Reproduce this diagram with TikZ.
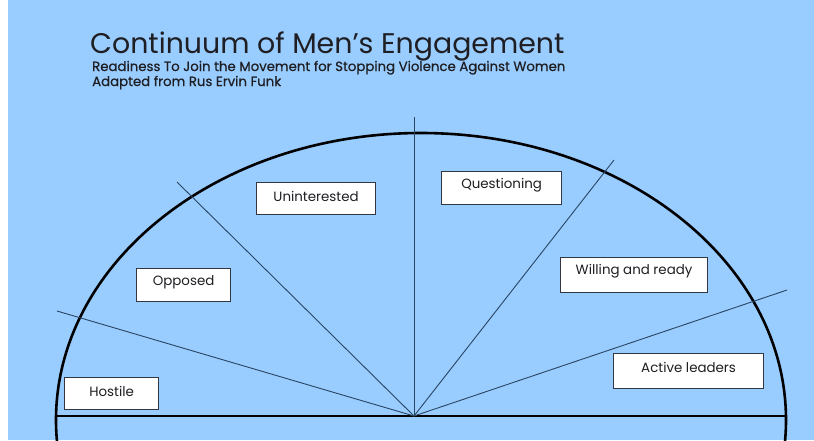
\documentclass[tikz,border=0pt]{standalone}
\usepackage{fontspec}
\setmainfont{Poppins}
\newfontfamily\titlefont{Poppins}
\newfontfamily\subfont[FakeBold=0.6]{Poppins}
\definecolor{bgblue}{RGB}{153,204,255}
\definecolor{raycol}{RGB}{40,70,100}
\definecolor{boxline}{RGB}{50,55,65}
\definecolor{txt}{RGB}{30,30,35}
\begin{document}
\begin{tikzpicture}[x=1pt,y=-1pt,
  lbl/.style={draw=boxline,line width=1.2pt,fill=white,inner sep=0pt,anchor=north west},
  lbltext/.style={text=txt,inner sep=0pt,font=\fontsize{13.4}{15}\selectfont},
  subt/.style={anchor=base west,inner sep=0pt,text=txt,font=\subfont\fontsize{13.3}{15}\selectfont},
  ray/.style={draw=raycol,line width=0.9pt}]
\useasboundingbox (0,0) rectangle (814,440);
\fill[white] (0,0) rectangle (814,440);
\fill[bgblue] (8,0) rectangle (814,440);
% title
\node[anchor=base west,inner sep=0pt,text=txt,font=\titlefont\fontsize{28.4}{32}\selectfont] (title) at (90,53) {Continuum of Men’s Engagement};
\node[subt] (sub1) at (92,71) {Readiness To Join the Movement for Stopping Violence Against Women};
\node[subt] (sub2) at (92,86) {Adapted from Rus Ervin Funk};
% geometry
\coordinate (c) at (414,416);
\coordinate (bl) at (57,416);
\coordinate (br) at (786,416);
\coordinate (r1) at (57,311);
\coordinate (r2) at (177,182);
\coordinate (r3) at (414,117);
\coordinate (r4) at (614,160);
\coordinate (r5) at (787,290);
\begin{scope}
\clip (0,0) rectangle (814,440);
\draw[line width=2.6pt,black] (421,420) ellipse [x radius=365, y radius=287];
\end{scope}
\draw[line width=2.8pt,black] (bl) -- (br);
\foreach \r in {r1,r2,r3,r4,r5} \draw[ray] (c) -- (\r);
% boxes
\node[lbl,minimum width=94pt,minimum height=32pt] (hostile) at (64,377) {};
\node[lbltext] at ([yshift=2pt]hostile.center) {Hostile};
\node[lbl,minimum width=94pt,minimum height=33pt] (opposed) at (136,268) {};
\node[lbltext] at ([yshift=3pt]opposed.center) {Opposed};
\node[lbl,minimum width=119pt,minimum height=32pt] (unint) at (256,182) {};
\node[lbltext] at ([yshift=2pt]unint.center) {Uninterested};
\node[lbl,minimum width=120pt,minimum height=33pt] (quest) at (441,171) {};
\node[lbltext] at ([yshift=3pt]quest.center) {Questioning};
\node[lbl,minimum width=147pt,minimum height=35pt] (will) at (560,257) {};
\node[lbltext] at ([yshift=4pt]will.center) {Willing and ready};
\node[lbl,minimum width=150pt,minimum height=35pt] (active) at (613,353) {};
\node[lbltext] at ([yshift=4pt]active.center) {Active leaders};
\end{tikzpicture}
\end{document}
